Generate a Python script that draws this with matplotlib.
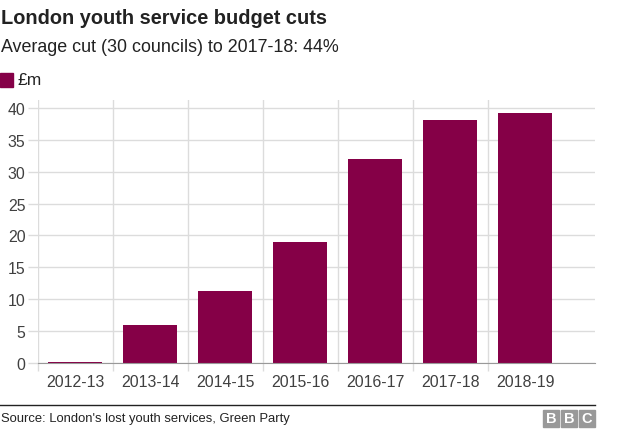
import matplotlib.pyplot as plt
from matplotlib.patches import Rectangle

plt.rcParams['font.family'] = ['Liberation Sans', 'DejaVu Sans']

years = ['2012-13', '2013-14', '2014-15', '2015-16', '2016-17', '2017-18', '2018-19']
cuts = [0.2, 6.0, 11.3, 19.0, 32.0, 38.1, 39.2]
yticks = [0, 5, 10, 15, 20, 25, 30, 35, 40]

W, H = 624, 431
bar_col = '#850047'
grid_col = '#dcdcdc'
text_col = '#404040'

fig = plt.figure(figsize=(W / 100, H / 100), dpi=100)
fig.patch.set_facecolor('white')

# axes placed in pixel coords
left, right, bottom, top = 38, 595, 364, 101
ax = fig.add_axes([left / W, (H - bottom) / H, (right - left) / W, (bottom - top) / H])

x = list(range(len(years)))
ax.bar(x, cuts, width=0.72, color=bar_col, zorder=3)

ax.set_xlim(-0.5, 6.93)
ax.set_ylim(0, 41.25)

ax.set_yticks(yticks)
ax.set_yticklabels([str(v) for v in yticks])
ax.set_xticks(x)
ax.set_xticklabels(years)
ax.set_xticks([i - 0.5 for i in range(len(years))], minor=True)

ax.grid(axis='y', which='major', color=grid_col, linewidth=1, zorder=0)
ax.grid(axis='x', which='minor', color=grid_col, linewidth=1, zorder=0)
ax.tick_params(axis='x', which='major', length=0, pad=8, labelsize=11.4, labelcolor=text_col)
ax.tick_params(axis='x', which='minor', length=6, color=grid_col, width=1)
ax.tick_params(axis='y', which='major', length=7, color=grid_col, width=1, pad=2,
               labelsize=11.4, labelcolor=text_col)

for s in ['top', 'right', 'left']:
    ax.spines[s].set_visible(False)
ax.spines['bottom'].set_color('#999999')
ax.spines['bottom'].set_zorder(4)

# titles
fig.text(1 / W, 1 - 18 / H, 'London youth service budget cuts', fontsize=14.4,
         fontweight='bold', color='#222222', va='center', ha='left')
fig.text(1 / W, 1 - 47 / H, 'Average cut (30 councils) to 2017-18: 44%', fontsize=12.9,
         color='#222222', va='center', ha='left')

# legend
fig.patches.append(Rectangle((0, 1 - 88 / H), 13 / W, 14 / H, transform=fig.transFigure,
                             color=bar_col))
fig.text(18 / W, 1 - 81 / H, '£m', fontsize=12.5, color='#222222', va='center', ha='left')

# footer
fig.add_artist(plt.Line2D([0, 595 / W], [1 - 406 / H, 1 - 406 / H], transform=fig.transFigure,
                          color='#222222', linewidth=1))
fig.text(1 / W, 1 - 419 / H, "Source: London's lost youth services, Green Party", fontsize=9.4,
         color='#222222', va='center', ha='left')
for i, letter in enumerate('BBC'):
    x0 = 543 + i * 18
    fig.patches.append(Rectangle((x0 / W, 1 - 428 / H), 16 / W, 17 / H,
                                 transform=fig.transFigure, color='#999999'))
    fig.text((x0 + 8) / W, 1 - 419.5 / H, letter, fontsize=10.5, fontweight='bold',
             color='white', va='center', ha='center')

fig.savefig('out.png', dpi=100, facecolor='white')
